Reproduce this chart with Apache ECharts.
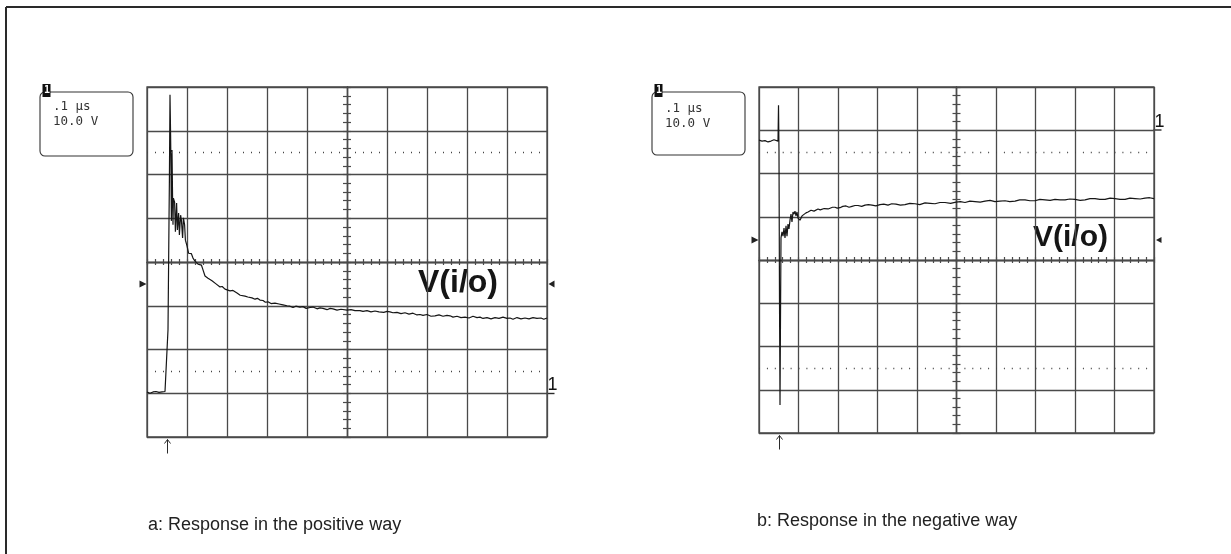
<!DOCTYPE html>
<html>
<head>
<meta charset="utf-8">
<title>V(i/o) response</title>
<script src="https://cdn.jsdelivr.net/npm/echarts@6.0.0/dist/echarts.min.js"></script>
<style>
  html, body { margin: 0; padding: 0; background: #fff; }
  #main { width: 1231px; height: 554px; }
</style>
</head>
<body>
<div id="main"></div>
<script>
// time in ns (0.1 us / div), voltage in V (10 V / div)

// a: positive way
var timeA = [0, 7.5, 12, 15, 20, 22.5, 27, 30, 35, 37.5, 42, 45, 50,
  52.5, 55, 56, 57.5, 59, 60, 61, 62.5, 64, 65, 66, 69, 71, 74, 76, 79, 81, 84, 86, 89, 91, 94, 96,
  100, 104, 107.5, 111, 115, 120, 124, 127.5, 132.5, 136, 140, 145, 149, 152.5, 157, 162.5, 167, 172.5,
  177, 182.5, 188, 195, 200, 207.5, 215, 225, 233, 238, 245, 252, 257, 262.5, 270, 276, 282.5, 290,
  296, 302.5, 310, 315, 320, 330, 335, 340, 350, 357.5, 365, 372, 382.5, 390, 398, 407.5, 415, 425,
  432.5, 440, 450, 458, 465, 475, 485, 500, 505, 510, 520, 532.5, 540, 550, 560, 570, 580, 592, 600,
  607.5, 615, 625, 635, 645, 655, 665, 675, 682.5, 690, 700, 710, 720, 730, 740, 750, 757.5, 765, 775,
  785, 795, 805, 815, 825, 832.5, 840, 850, 860, 870, 880, 890, 900, 907.5, 915, 925, 935, 945, 955,
  965, 975, 985, 992, 1000];
var voltA = [0.3, 0.0, 0.4, 0.3, 0.6, 0.4, 0.1, 0.2, 0.5, 0.3, 0.2, 0.4, 0.3,
  14.5, 39.4, 48.7, 68.2, 59.0, 51.0, 39.4, 55.6, 44.2, 38.5, 44.6, 43.7, 36.9, 43.5, 37.3, 41.2, 36.2, 40.7, 39.6, 35.5, 40.1, 38.5, 35.0,
  33.7, 32.0, 31.6, 31.9, 30.9, 30.2, 30.4, 29.5, 29.1, 29.3, 28.2, 26.8, 26.9, 26.3, 26.4, 25.7, 25.8, 25.0,
  24.9, 24.3, 24.4, 23.8, 23.9, 23.4, 23.5, 22.9, 22.4, 22.6, 22.2, 22.0, 22.2, 21.8, 21.5, 21.7, 21.3, 21.2,
  20.8, 20.9, 20.5, 20.8, 20.6, 20.4, 20.1, 20.2, 20.0, 19.9, 19.6, 19.9, 19.7, 19.8, 19.4, 19.6, 19.7, 19.3,
  19.5, 19.4, 19.1, 19.4, 19.3, 19.0, 19.2, 19.0, 18.6, 19.1, 18.9, 18.9, 18.7, 18.9, 18.6, 18.8, 18.6, 18.5, 18.7,
  18.6, 18.4, 18.5, 18.2, 18.4, 18.1, 18.3, 17.9, 18.0, 17.8, 18.0, 17.6, 17.7, 17.9, 17.6, 17.8, 17.7, 17.4, 17.6,
  17.3, 17.4, 17.2, 17.6, 17.3, 17.4, 17.1, 17.3, 17.0, 17.3, 17.1, 17.4, 17.1, 17.2, 16.9, 17.3, 17.0, 17.2, 17.0,
  17.3, 17.1, 17.2, 16.9, 17.2];

// b: negative way
var timeB = [0, 4, 7.6, 11, 15.2, 19, 22.8, 27, 30.4, 34, 38, 43, 48.1,
  49.4, 50.6, 51.9, 53.2, 54.4, 55.7, 58.2, 60.8, 63.3, 65.8, 68.4, 70.9, 73.4, 75.9, 78.5, 81, 83.5,
  86.1, 88.6, 91.1, 93.7, 96.2, 98.7, 103.8, 108.9, 113.9, 119, 124.1, 131.7, 139.3, 149.4, 155, 159.5,
  165, 169.6, 175, 179.8, 186, 192.4, 198, 205.1, 212, 220.3, 228, 235.5, 243, 250.7, 260, 268.4, 277,
  286.1, 296, 306.3, 316, 326.6, 336, 346.8, 358, 369.6, 382, 395, 407, 420.3, 433, 445.6, 458, 471, 485,
  498.8, 510, 521.6, 534, 546.9, 560, 572.2, 585, 597.5, 610, 622.8, 635, 648.2, 660, 673.5, 686, 698.8,
  711, 724.1, 737, 749.4, 762, 774.8, 787, 800.1, 813, 825.4, 838, 850.7, 863, 876, 889, 901.4, 914,
  926.7, 939, 952, 965, 977.3, 989, 1000];
var voltB = [-2.3, -2.6, -2.5, -2.2, -2.4, -2.6, -2.7, -2.3, -2.5, -2.4, -2.2, -2.4, -2.5,
  5.8, -4.6, -39.2, -63.5, -43.9, -24.9, -23.5, -24.5, -22.6, -24.9, -22.1, -24.5, -21.7, -22.8, -20.8, -19.4, -21.2,
  -18.9, -19.4, -18.7, -19.8, -18.9, -20.3, -20.8, -19.8, -19.8, -19.1, -18.9, -18.5, -18.7, -18.2, -18.4, -18.5,
  -18.1, -18.0, -18.2, -18.0, -17.8, -17.8, -18.0, -17.9, -17.6, -17.5, -17.8, -17.6, -17.4, -17.4, -17.6, -17.3, -17.2,
  -17.3, -17.5, -17.2, -17.1, -17.3, -17.0, -17.1, -17.3, -17.2, -16.9, -17.0, -17.2, -16.8, -16.9, -17.0, -16.7, -16.7, -16.9,
  -16.6, -16.5, -16.7, -16.4, -16.5, -16.6, -16.4, -16.2, -16.5, -16.4, -16.3, -16.5, -16.4, -16.1, -16.1, -16.3, -16.3,
  -16.0, -16.1, -16.2, -16.0, -16.1, -16.1, -15.9, -16.0, -16.2, -16.1, -15.8, -15.8, -16.0, -16.0, -15.7, -15.8, -16.0,
  -16.0, -15.7, -15.8, -15.9, -15.7, -15.6, -15.8];

// screen ranges (8 div x 10 V) and the dotted 10%/90% rows
var rangeA = [-10, 70];
var rangeB = [-70, 10];
var dottedA = [55, 5];
var dottedB = [-5, -55];

var captions = ['a: Response in the positive way', 'b: Response in the negative way'];
var scaleLines = ['.1 μs', '10.0 V'];
var traceName = 'V(i/o)';

var gridColor = '#4a4a4a';
var gridWidth = 1.3;
var ink = '#161616';

function pairs(t, v) {
  var out = [];
  for (var i = 0; i < t.length; i++) out.push([t[i], v[i]]);
  return out;
}

// two axes per direction, both pushed to the centre of the screen so the
// little division ticks cross the centre lines
function xAxes(gi, half) {
  var base = {
    gridIndex: gi, type: 'value', min: 0, max: 1000, interval: 100,
    offset: -half,
    axisLine: { show: true, onZero: false, lineStyle: { color: gridColor, width: gridWidth } },
    axisTick: { show: true, length: 3, lineStyle: { color: gridColor, width: 1.2 } },
    minorTick: { show: true, splitNumber: 5, length: 3, lineStyle: { color: gridColor, width: 1.2 } },
    axisLabel: { show: false },
    splitLine: { show: false }
  };
  var bottom = Object.assign({}, base, { position: 'bottom',
    splitLine: { show: true, lineStyle: { color: gridColor, width: gridWidth } } });
  var top = Object.assign({}, base, { position: 'top' });
  return [bottom, top];
}

function yAxes(gi, half, range) {
  var base = {
    gridIndex: gi, type: 'value', min: range[0], max: range[1], interval: 10,
    offset: -half,
    axisLine: { show: true, onZero: false, lineStyle: { color: gridColor, width: gridWidth } },
    axisTick: { show: true, length: 4, lineStyle: { color: gridColor, width: 1.2 } },
    minorTick: { show: true, splitNumber: 5, length: 4, lineStyle: { color: gridColor, width: 1.2 } },
    axisLabel: { show: false },
    splitLine: { show: false }
  };
  var left = Object.assign({}, base, { position: 'left',
    splitLine: { show: true, lineStyle: { color: gridColor, width: gridWidth } } });
  var right = Object.assign({}, base, { position: 'right' });
  return [left, right];
}

function trace(xi, yi, t, v, dotted, dash) {
  return {
    type: 'line',
    xAxisIndex: xi,
    yAxisIndex: yi,
    data: pairs(t, v),
    symbol: 'none',
    showSymbol: false,
    silent: true,
    animation: false,
    lineStyle: { color: ink, width: 1.2 },
    markLine: {
      silent: true,
      symbol: 'none',
      animation: false,
      label: { show: false },
      lineStyle: { color: '#444', width: 1.3, type: dash },
      data: dotted.map(function (d) { return { yAxis: d }; })
    }
  };
}

function text(x, y, str, font, fill) {
  return {
    type: 'text', x: x, y: y, silent: true,
    style: { text: str, font: font, fill: fill || ink,
      textAlign: 'left', align: 'left', textVerticalAlign: 'middle', verticalAlign: 'middle' }
  };
}

function line(x1, y1, x2, y2, w) {
  return { type: 'line', silent: true, shape: { x1: x1, y1: y1, x2: x2, y2: y2 },
    style: { stroke: '#2a2a2a', lineWidth: w || 1 } };
}

function tri(points) {
  return { type: 'polygon', silent: true, shape: { points: points }, style: { fill: '#222' } };
}

// channel read-out box, ground marks, trigger arrow for one screen
function panelDecor(p) {
  var mono = '12.5px "DejaVu Sans Mono", monospace';
  return [
    { type: 'rect', silent: true,
      shape: { x: p.box[0], y: p.box[1], width: p.box[2], height: p.box[3], r: 5 },
      style: { fill: 'none', stroke: '#333', lineWidth: 1.1 } },
    { type: 'rect', silent: true,
      shape: { x: p.box[0] + 2.5, y: p.box[1] - 8, width: 8, height: 13 },
      style: { fill: '#111' } },
    text(p.box[0] + 4, p.box[1] - 1.5, '1', 'bold 10px "DejaVu Sans Mono", monospace', '#fff'),
    text(p.box[0] + 13, p.txtY[0], scaleLines[0], mono, '#333'),
    text(p.box[0] + 13, p.txtY[1], scaleLines[1], mono, '#333'),
    text(p.label[0], p.label[1], traceName, 'bold ' + p.label[2] + 'px "Liberation Sans", Arial, sans-serif', '#151515'),
    text(p.gnd[0], p.gnd[1], '1', '18px "Liberation Sans", Arial, sans-serif', '#111'),
    line(p.gnd[0] - 1, p.gnd[1] + 8, p.gnd[0] + 7, p.gnd[1] + 8, 1.4),
    tri(p.triL), tri(p.triR),
    line(p.arrow[0], p.arrow[1], p.arrow[0], p.arrow[1] + 14, 1),
    { type: 'polyline', silent: true,
      shape: { points: [[p.arrow[0] - 3, p.arrow[1] + 4], [p.arrow[0], p.arrow[1]], [p.arrow[0] + 3, p.arrow[1] + 4]] },
      style: { stroke: '#2a2a2a', lineWidth: 1, fill: 'none' } },
    text(p.cap[0], p.cap[1], p.capText, '18px "Liberation Sans", Arial, sans-serif', '#222')
  ];
}

var decor = [].concat(
  [line(6, 7, 6, 554, 2), line(6, 7, 1231, 7, 2)],
  panelDecor({
    box: [40, 92, 93, 64], txtY: [107, 121.5],
    label: [418, 283, 32], gnd: [547.5, 385.5],
    triL: [[139.5, 280.5], [146.5, 284], [139.5, 287.5]],
    triR: [[554.5, 280.5], [548.5, 284], [554.5, 287.5]],
    arrow: [167.5, 439.5], cap: [148, 525], capText: captions[0]
  }),
  panelDecor({
    box: [652, 92, 93, 63], txtY: [108.5, 123.5],
    label: [1033, 238, 30], gnd: [1154.5, 122],
    triL: [[751.5, 236.5], [758.5, 240], [751.5, 243.5]],
    triR: [[1161.5, 237], [1156, 240], [1161.5, 243]],
    arrow: [779.5, 435.5], cap: [757, 521], capText: captions[1]
  })
);

var chart = echarts.init(document.getElementById('main'), null, { renderer: 'canvas' });

var option = {
  backgroundColor: '#fff',
  animation: false,
  grid: [
    { left: 147, top: 87, width: 400, height: 350, show: true, borderColor: gridColor, borderWidth: gridWidth, backgroundColor: 'transparent' },
    { left: 759, top: 87, width: 395, height: 346, show: true, borderColor: gridColor, borderWidth: gridWidth, backgroundColor: 'transparent' }
  ],
  xAxis: [].concat(xAxes(0, 175), xAxes(1, 173)),
  yAxis: [].concat(yAxes(0, 200, rangeA), yAxes(1, 197.5, rangeB)),
  series: [
    trace(0, 0, timeA, voltA, dottedA, [1, 7]),
    trace(2, 2, timeB, voltB, dottedB, [1, 6.9])
  ],
  graphic: decor
};

chart.setOption(option);
</script>
</body>
</html>
